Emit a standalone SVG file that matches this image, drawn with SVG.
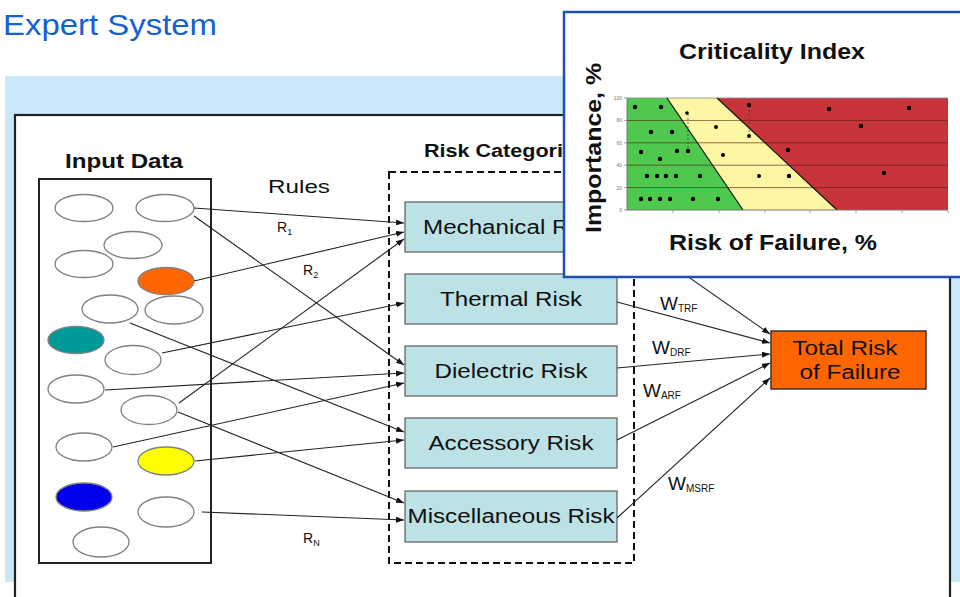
<svg xmlns="http://www.w3.org/2000/svg" width="960" height="597" viewBox="0 0 960 597">
<style>
  .t{font-family:"Liberation Sans",Arial,sans-serif;fill:#111}
  .b{font-weight:bold}
  .ell{fill:#fff;stroke:#808080;stroke-width:1.3}
  .risk{fill:#bce2e5;stroke:#666;stroke-width:1.3}
  .con{stroke:#222;stroke-width:1.1;fill:none;marker-end:url(#ah)}
  .grid{stroke:#5a1a1a;stroke-width:0.8;opacity:0.8}
  .dot{fill:#000}
  .tick{font-family:"Liberation Sans",Arial,sans-serif;font-size:5px;fill:#777;text-anchor:end}
</style>
<defs>
  <marker id="ah" markerUnits="userSpaceOnUse" markerWidth="9" markerHeight="7" refX="8" refY="3" orient="auto">
    <path d="M0,0 L8,3 L0,6 z" fill="#111"/>
  </marker>
</defs>
<rect width="960" height="597" fill="#fff"/>
<text class="t" x="3" y="35" font-size="30" textLength="214" lengthAdjust="spacingAndGlyphs" style="fill:#1560d4">Expert System</text>
<rect x="5" y="76" width="955" height="506" fill="#c9e9fb"/>
<rect x="15" y="115" width="935" height="500" fill="#fff" stroke="#222" stroke-width="2.2"/>

<g id="input-data">
  <text class="t b" x="65" y="168" font-size="21" textLength="118" lengthAdjust="spacingAndGlyphs">Input Data</text>
  <rect x="39" y="179" width="172" height="384" fill="none" stroke="#222" stroke-width="2"/>
  <ellipse class="ell" cx="84" cy="208" rx="29" ry="13.5"/>
  <ellipse class="ell" cx="165" cy="208" rx="29" ry="13.5"/>
  <ellipse class="ell" cx="133" cy="245" rx="29" ry="13.5"/>
  <ellipse class="ell" cx="84" cy="264" rx="29" ry="13.5"/>
  <ellipse class="ell" cx="166" cy="281" rx="28" ry="13.5" style="fill:#ff6600"/>
  <ellipse class="ell" cx="110" cy="309" rx="28" ry="14"/>
  <ellipse class="ell" cx="174" cy="310" rx="29" ry="14"/>
  <ellipse class="ell" cx="76" cy="340" rx="28" ry="13.5" style="fill:#009999"/>
  <ellipse class="ell" cx="133" cy="360" rx="28" ry="14.5"/>
  <ellipse class="ell" cx="76" cy="389" rx="28" ry="14"/>
  <ellipse class="ell" cx="149" cy="410" rx="28" ry="14.5"/>
  <ellipse class="ell" cx="84" cy="447" rx="28" ry="14"/>
  <ellipse class="ell" cx="166" cy="461" rx="28" ry="14" style="fill:#ffff00"/>
  <ellipse class="ell" cx="84" cy="497" rx="28" ry="14" style="fill:#0000ee"/>
  <ellipse class="ell" cx="166" cy="512" rx="28" ry="15"/>
  <ellipse class="ell" cx="101" cy="542" rx="28" ry="15"/>
</g>

<text class="t" x="268" y="193" font-size="18" textLength="62" lengthAdjust="spacingAndGlyphs">Rules</text>
<text class="t" x="277" y="232" font-size="14">R<tspan font-size="9" dy="3">1</tspan></text>
<text class="t" x="303" y="275" font-size="14">R<tspan font-size="9" dy="3">2</tspan></text>
<text class="t" x="303" y="543" font-size="14">R<tspan font-size="9" dy="3">N</tspan></text>

<g id="risk-categories">
  <text class="t b" x="424" y="157" font-size="18" textLength="163" lengthAdjust="spacingAndGlyphs">Risk Categories</text>
  <rect x="389" y="172" width="245" height="391" fill="none" stroke="#111" stroke-width="2" stroke-dasharray="7,4"/>
</g>
<g id="mechanical-risk">
  <rect class="risk" x="405" y="202" width="212" height="50"/>
  <text class="t" x="511" y="234" font-size="20" text-anchor="middle" textLength="176" lengthAdjust="spacingAndGlyphs">Mechanical Risk</text>
</g>
<g id="thermal-risk">
  <rect class="risk" x="405" y="274" width="212" height="50"/>
  <text class="t" x="511" y="306" font-size="20" text-anchor="middle" textLength="142" lengthAdjust="spacingAndGlyphs">Thermal Risk</text>
</g>
<g id="dielectric-risk">
  <rect class="risk" x="405" y="346" width="212" height="50"/>
  <text class="t" x="511" y="378" font-size="20" text-anchor="middle" textLength="153" lengthAdjust="spacingAndGlyphs">Dielectric Risk</text>
</g>
<g id="accessory-risk">
  <rect class="risk" x="405" y="418" width="212" height="50"/>
  <text class="t" x="511" y="450" font-size="20" text-anchor="middle" textLength="165" lengthAdjust="spacingAndGlyphs">Accessory Risk</text>
</g>
<g id="miscellaneous-risk">
  <rect class="risk" x="405" y="491" width="212" height="51"/>
  <text class="t" x="511" y="523" font-size="20" text-anchor="middle" textLength="207" lengthAdjust="spacingAndGlyphs">Miscellaneous Risk</text>
</g>
<g id="total-risk">
  <rect x="771" y="331" width="155" height="58" fill="#ff6600" stroke="#333" stroke-width="1.5"/>
  <text class="t" x="845" y="355" font-size="20" text-anchor="middle" textLength="105" lengthAdjust="spacingAndGlyphs">Total Risk</text>
  <text class="t" x="850" y="379" font-size="20" text-anchor="middle" textLength="101" lengthAdjust="spacingAndGlyphs">of Failure</text>
</g>

<g id="connectors">
  <line class="con" x1="194" y1="208" x2="404" y2="223"/>
  <line class="con" x1="194" y1="216" x2="404" y2="365"/>
  <line class="con" x1="194" y1="281" x2="404" y2="232"/>
  <line class="con" x1="179" y1="403" x2="404" y2="239"/>
  <line class="con" x1="162" y1="353" x2="404" y2="303"/>
  <line class="con" x1="130" y1="323" x2="404" y2="432"/>
  <line class="con" x1="105" y1="390" x2="404" y2="373"/>
  <line class="con" x1="113" y1="447" x2="404" y2="383"/>
  <line class="con" x1="178" y1="412" x2="404" y2="503"/>
  <line class="con" x1="195" y1="461" x2="404" y2="440"/>
  <line class="con" x1="202" y1="512" x2="404" y2="520"/>
  <line class="con" x1="617" y1="227" x2="770" y2="334"/>
  <line class="con" x1="617" y1="302" x2="770" y2="343"/>
  <line class="con" x1="617" y1="368" x2="770" y2="354"/>
  <line class="con" x1="617" y1="440" x2="770" y2="363"/>
  <line class="con" x1="617" y1="518" x2="770" y2="378"/>
</g>
<text class="t" x="660" y="310" font-size="19">W<tspan font-size="10" dy="2">TRF</tspan></text>
<text class="t" x="652" y="354" font-size="19">W<tspan font-size="10" dy="2">DRF</tspan></text>
<text class="t" x="643" y="397" font-size="19">W<tspan font-size="10" dy="2">ARF</tspan></text>
<text class="t" x="668" y="490" font-size="19">W<tspan font-size="10" dy="2">MSRF</tspan></text>

<g id="criticality-chart">
  <rect x="564" y="12" width="400" height="265" fill="#fff" stroke="#1f4fb5" stroke-width="2.5"/>
  <text class="t b" x="679" y="59" font-size="22" textLength="186" lengthAdjust="spacingAndGlyphs">Criticality Index</text>
  <text class="t b" x="0" y="0" font-size="22" transform="translate(601,233) rotate(-90)" textLength="170" lengthAdjust="spacingAndGlyphs">Importance, %</text>
  <text class="t b" x="669" y="250" font-size="22" textLength="208" lengthAdjust="spacingAndGlyphs">Risk of Failure, %</text>
  <polygon points="627,98 667,98 743,210 627,210" fill="#4fc94d"/>
  <polygon points="667,98 717,98 837,210 743,210" fill="#fdf6a2"/>
  <polygon points="717,98 948,98 948,210 837,210" fill="#c9343b"/>
  <line class="grid" x1="627" y1="120.4" x2="948" y2="120.4"/>
  <line class="grid" x1="627" y1="142.8" x2="948" y2="142.8"/>
  <line class="grid" x1="627" y1="165.2" x2="948" y2="165.2"/>
  <line class="grid" x1="627" y1="187.6" x2="948" y2="187.6"/>
  <line x1="627" y1="98" x2="948" y2="98" stroke="#888" stroke-width="0.8"/>
  <line x1="667" y1="98" x2="743" y2="210" stroke="#111" stroke-width="1.2"/>
  <line x1="717" y1="98" x2="837" y2="210" stroke="#111" stroke-width="1.2"/>
  <line x1="627" y1="98" x2="627" y2="210" stroke="#777" stroke-width="1"/>
  <line x1="627" y1="210" x2="948" y2="210" stroke="#777" stroke-width="1"/>
  <g stroke="#888" stroke-width="0.8">
    <line x1="624" y1="98" x2="627" y2="98"/><line x1="624" y1="120.4" x2="627" y2="120.4"/>
    <line x1="624" y1="142.8" x2="627" y2="142.8"/><line x1="624" y1="165.2" x2="627" y2="165.2"/>
    <line x1="624" y1="187.6" x2="627" y2="187.6"/><line x1="624" y1="210" x2="627" y2="210"/>
    <line x1="673" y1="210" x2="673" y2="213"/><line x1="719" y1="210" x2="719" y2="213"/>
    <line x1="765" y1="210" x2="765" y2="213"/><line x1="810" y1="210" x2="810" y2="213"/>
    <line x1="856" y1="210" x2="856" y2="213"/><line x1="902" y1="210" x2="902" y2="213"/>
    <line x1="948" y1="210" x2="948" y2="213"/>
  </g>
  <text class="tick" x="622" y="100">100</text>
  <text class="tick" x="622" y="122">80</text>
  <text class="tick" x="622" y="145">60</text>
  <text class="tick" x="622" y="167">40</text>
  <text class="tick" x="622" y="190">20</text>
  <text class="tick" x="622" y="212">0</text>
  <g stroke="#333" stroke-width="0.7" stroke-dasharray="2,2">
    <line x1="688" y1="114" x2="688" y2="151"/>
    <line x1="749" y1="106" x2="749" y2="136"/>
  </g>
  <g class="dot">
    <circle cx="635" cy="107" r="2.2"/><circle cx="661" cy="107" r="2.2"/>
    <circle cx="687" cy="113" r="1.8"/><circle cx="749" cy="105" r="2.2"/>
    <circle cx="829" cy="109" r="2.2"/><circle cx="909" cy="108" r="2.2"/>
    <circle cx="651" cy="132" r="2.2"/><circle cx="672" cy="132" r="2.2"/>
    <circle cx="716" cy="127" r="2"/><circle cx="861" cy="126" r="2.2"/>
    <circle cx="749" cy="136" r="2"/>
    <circle cx="641" cy="152" r="2.2"/><circle cx="677" cy="151" r="2.2"/>
    <circle cx="688" cy="151" r="2.2"/><circle cx="723" cy="155" r="2"/>
    <circle cx="788" cy="150" r="2.2"/><circle cx="660" cy="159" r="2.2"/>
    <circle cx="647" cy="176" r="2.2"/><circle cx="657" cy="176" r="2.2"/>
    <circle cx="666" cy="176" r="2.2"/><circle cx="676" cy="176" r="2.2"/>
    <circle cx="700" cy="176" r="2.2"/><circle cx="759" cy="176" r="2"/>
    <circle cx="789" cy="176" r="2.2"/><circle cx="884" cy="173" r="2.2"/>
    <circle cx="641" cy="199" r="2.2"/><circle cx="650" cy="199" r="2.2"/>
    <circle cx="660" cy="199" r="2.2"/><circle cx="670" cy="199" r="2.2"/>
    <circle cx="693" cy="199" r="2.2"/><circle cx="718" cy="199" r="2.2"/>
  </g>
</g>
</svg>
